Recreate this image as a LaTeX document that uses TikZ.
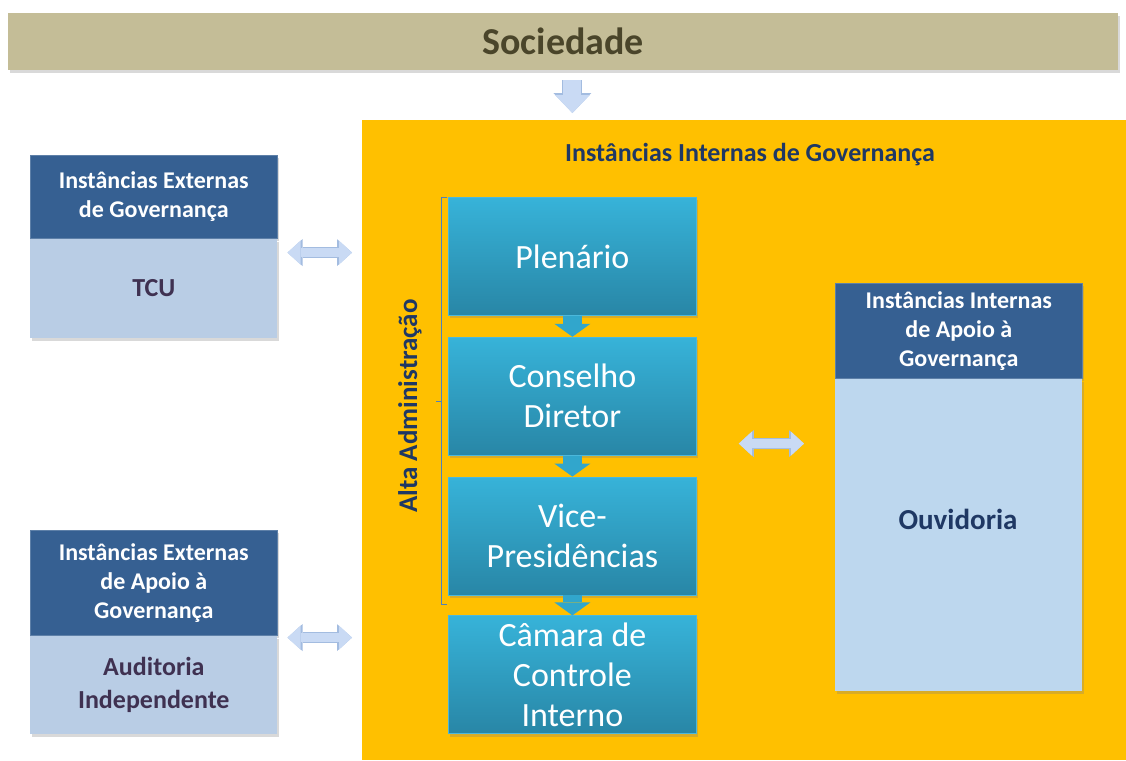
\documentclass[tikz,border=0pt]{standalone}
\usepackage{fontspec}
\setmainfont{Carlito}
\usetikzlibrary{positioning,calc,shadows,arrows.meta}

\definecolor{socfill}{HTML}{C4BD97}
\definecolor{soctext}{HTML}{4A452A}
\definecolor{govorange}{HTML}{FFC000}
\definecolor{hdrblue}{HTML}{366092}
\definecolor{bodyblue}{HTML}{B9CDE5}
\definecolor{bodyblueb}{HTML}{BDD7EE}
\definecolor{navytext}{HTML}{1F3864}
\definecolor{purpletext}{HTML}{3F3151}
\definecolor{cyantop}{HTML}{37B3D9}
\definecolor{cyanbot}{HTML}{2886A6}
\definecolor{cyanedge}{HTML}{4BB8DC}
\definecolor{cyanarr}{HTML}{31A6CC}
\definecolor{arrowfill}{HTML}{C9DAF4}
\definecolor{arrowedge}{HTML}{A3BCE0}
\definecolor{bracecol}{HTML}{4F81BD}

\tikzset{
  boxshadow/.style={drop shadow={opacity=0.3,shadow xshift=2pt,shadow yshift=-3pt}},
  socbar/.style={anchor=north west,fill=socfill,minimum width=1110pt,minimum height=57pt,
    text=soctext,font=\fontsize{38}{44}\selectfont\bfseries,boxshadow},
  govbox/.style={anchor=north west,fill=govorange,minimum width=764pt,minimum height=640pt},
  govtitle/.style={text=navytext,font=\fontsize{26}{31}\selectfont\bfseries},
  cyanbox/.style={anchor=north west,draw=cyanedge,line width=0.8pt,top color=cyantop,
    middle color=cyantop!92!cyanbot,bottom color=cyanbot,minimum width=248pt,minimum height=118pt,
    inner sep=2pt,align=center,text=white,font=\fontsize{34}{40}\selectfont,boxshadow},
  hdr/.style={anchor=north west,fill=hdrblue,draw=hdrblue!80!white,line width=0.6pt,
    minimum width=247pt,align=center,text=white,font=\fontsize{24}{29}\selectfont\bfseries,boxshadow},
  bodybox/.style={fill=bodyblue,minimum width=247pt,align=center,text=purpletext,
    font=\fontsize{26}{33}\selectfont\bfseries,boxshadow},
  bracket/.style={draw=bracecol,line width=1pt},
  alta/.style={rotate=90,text=navytext,font=\fontsize{27}{32}\selectfont\bfseries},
  lightarrow/.style={draw=arrowfill,line width=18pt,-{Triangle[length=18pt,width=35pt,line width=0pt]},
    preaction={draw=arrowedge,line width=20pt,-{Triangle[length=20pt,width=38pt,line width=0pt]}}},
  dblarrow/.style={draw=arrowfill,line width=9pt,
    {Triangle[length=13pt,width=24pt,line width=0pt]}-{Triangle[length=13pt,width=24pt,line width=0pt]},
    preaction={draw=arrowedge,line width=11pt,
    {Triangle[length=15pt,width=27pt,line width=0pt]}-{Triangle[length=15pt,width=27pt,line width=0pt]}}},
  cyanarrow/.style={draw=cyanarr,line width=19pt,-{Triangle[length=13pt,width=36pt,line width=0pt]}}
}

\begin{document}
\begin{tikzpicture}[x=1pt,y=-1pt]
\useasboundingbox (0,0) rectangle (1126,760);

\node[socbar] (soc) at (8,13) {Sociedade};
\node[govbox] (inner) at (362,120) {};
\node[govtitle] (ttl) at (750,155) {Instâncias Internas de Governança};

% coluna central
\node[cyanbox] (plen) at (448,197) {Plenário};
\node[cyanbox,below=21pt of plen] (cons) {Conselho\\Diretor};
\node[cyanbox,below=21pt of cons] (vice) {Vice-\\Presidências};
\node[cyanbox,below=20pt of vice] (cam) {Câmara de\\Controle\\Interno};

\draw[cyanarrow] (plen.south) -- (cons.north);
\draw[cyanarrow] (cons.south) -- (vice.north);
\draw[cyanarrow] (vice.south) -- (cam.north);

\draw[bracket] ([xshift=-1pt]plen.north west) -| (441,604) -- ++(6,0);
\draw[bracket] (441,401) -- ++(-5,0);
\node[alta] (alta) at (410,406) {Alta Administração};

% instancias externas
\node[hdr,minimum height=83pt] (exthdr) at (30,155) {Instâncias Externas\\de Governança};
\node[bodybox,below=0pt of exthdr,minimum height=99pt] (tcu) {TCU};

\node[hdr,minimum height=105pt] (apoiohdr) at (30,530) {Instâncias Externas\\de Apoio à\\Governança};
\node[bodybox,below=0pt of apoiohdr,minimum height=98pt] (aud) {Auditoria\\Independente};

% apoio interno
\node[hdr,minimum height=95pt] (inthdr) at (835,283) {Instâncias Internas\\de Apoio à\\Governança};
\node[bodybox,fill=bodyblueb,below=0pt of inthdr,minimum height=312pt] (ouv) {};
\node[text=navytext,font=\fontsize{29}{34}\selectfont\bfseries] (ouvtxt) at (958,519) {Ouvidoria};

% setas
\draw[lightarrow] ($(soc.south -| plen.north)+(0,10)$) -- ($(inner.north -| plen.north)+(0,-7)$);
\draw[dblarrow] ($(tcu.north east)+(10,14)$) -- ($(tcu.north east -| inner.west)+(-10,14)$);
\draw[dblarrow] ($(aud.north east)+(10,2)$) -- ($(aud.north east -| inner.west)+(-10,2)$);
\draw[dblarrow] ($(cons.south east)+(42,-12)$) -- ($(inthdr.south west)+(-31,65)$);

\end{tikzpicture}
\end{document}
